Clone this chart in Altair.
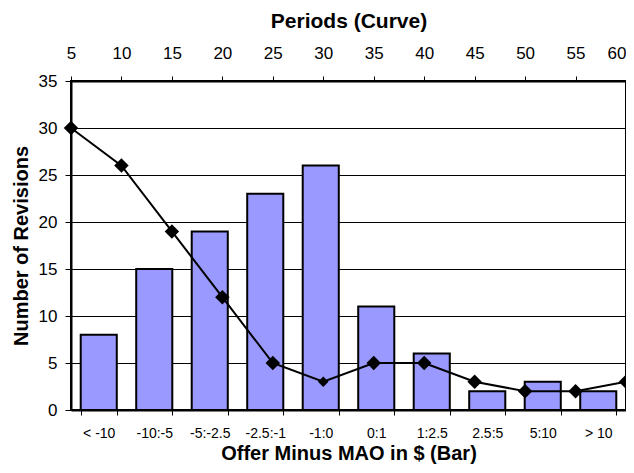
import altair as alt
import pandas as pd

categories = ["< -10", "-10:-5", "-5:-2.5", "-2.5:-1", "-1:0", "0:1", "1:2.5", "2.5:5", "5:10", "> 10"]
bar_values = [8, 15, 19, 23, 26, 11, 6, 2, 3, 2]

periods = [5, 10, 15, 20, 25, 30, 35, 40, 45, 50, 55, 60]
curve_values = [30, 26, 19, 12, 5, 3, 5, 5, 3, 2, 2, 3]

bars_df = pd.DataFrame({"cat": categories, "count": bar_values})
line_df = pd.DataFrame({"period": periods, "count": curve_values})

FONT = "Liberation Sans"

y = alt.Y(
    "count:Q",
    scale=alt.Scale(domain=[0, 35], nice=False),
    axis=alt.Axis(
        title="Number of Revisions",
        values=list(range(0, 36, 5)),
        grid=True,
        gridColor="#000000",
        gridWidth=1,
        domainColor="#000000",
        domainWidth=2,
        tickColor="#000000",
        tickSize=6,
        labelFontSize=17,
        labelPadding=8,
        titleFontSize=20,
        titleFontWeight="bold",
        titlePadding=7,
        labelColor="#000000",
        titleColor="#000000",
    ),
)

bars = alt.Chart(bars_df).mark_bar(
    color="#9999FF", stroke="#000000", strokeWidth=2
).encode(
    x=alt.X(
        "cat:N",
        sort=categories,
        scale=alt.Scale(paddingInner=0.35, paddingOuter=0.175),
        axis=alt.Axis(
            orient="bottom",
            title="Offer Minus MAO in $ (Bar)",
            labelAngle=0,
            tickBand="extent",
            tickColor="#000000",
            tickSize=5,
            domainColor="#000000",
            domainWidth=2,
            labelFontSize=14,
            labelPadding=11,
            titleFontSize=20,
            titleFontWeight="bold",
            titlePadding=3,
            labelColor="#000000",
            titleColor="#000000",
        ),
    ),
    y=y,
)

line = alt.Chart(line_df).mark_line(color="#000000", strokeWidth=2).encode(
    x=alt.X(
        "period:Q",
        scale=alt.Scale(domain=[5, 60], nice=False, zero=False),
        axis=alt.Axis(
            orient="top",
            title="Periods (Curve)",
            values=periods,
            grid=False,
            tickColor="#000000",
            tickSize=5,
            domainColor="#000000",
            domainWidth=2,
            labelFontSize=17,
            labelPadding=14,
            labelAlign={"condition": {"test": "datum.value == 60", "value": "right"}, "value": "center"},
            titleFontSize=21,
            titleFontWeight="bold",
            titlePadding=13,
            labelColor="#000000",
            titleColor="#000000",
        ),
    ),
    y=alt.Y("count:Q"),
)

points = alt.Chart(line_df).mark_point(
    shape="diamond", filled=True, color="#000000", opacity=1
).encode(
    x=alt.X("period:Q"),
    y=alt.Y("count:Q"),
    size=alt.condition(alt.datum.period == 30, alt.value(110), alt.value(210)),
)

chart = (
    alt.layer(bars, line + points)
    .resolve_scale(x="independent")
    .properties(
        width=555,
        height=329,
        padding={"left": 63, "top": 73, "right": 0, "bottom": 55},
        autosize=alt.AutoSizeParams(type="none"),
        background="#ffffff",
    )
    .configure_view(stroke="#000000", strokeWidth=2)
    .configure_axis(labelFont=FONT, titleFont=FONT)
)

chart.save("out.html", embed_options={"renderer": "svg", "actions": False})
